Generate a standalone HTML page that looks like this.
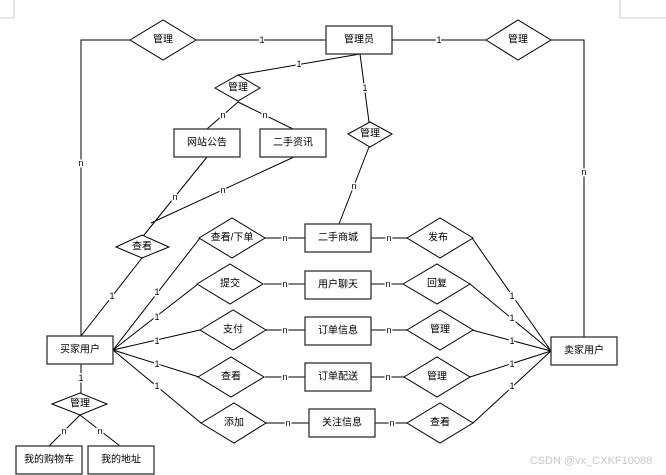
<!DOCTYPE html>
<html><head><meta charset="utf-8"><style>
html,body{margin:0;padding:0;background:#fff;}
svg{display:block;}
text{font-family:"Liberation Sans","Noto Sans CJK SC",sans-serif;font-size:10px;fill:#000;text-anchor:middle;dominant-baseline:central;}
.l{stroke:#000;stroke-width:1;fill:none;}
.b{stroke:#333;stroke-width:1.3;fill:#fff;}
.d{stroke:#000;stroke-width:1;fill:#fff;}
.t{font-size:9px;paint-order:stroke;stroke:#fff;stroke-width:3px;}
</style></head><body>
<svg width="666" height="475" viewBox="0 0 666 475" xmlns="http://www.w3.org/2000/svg">
<path class="l" d="M0 18H14V0" style="stroke:#ccc"/>
<path class="l" d="M620 0V18H666" style="stroke:#ccc"/>

<path class="l" d="M81 336V40H326"/>
<path class="l" d="M392 40H584V337"/>
<path class="l" d="M360 54L238 75"/>
<path class="l" d="M238 102L207 129M238 102L293 129"/>
<path class="l" d="M360 54L369 122"/>
<path class="l" d="M369 147L339 224"/>
<path class="l" d="M207 157L140 240M294 157L151 223"/>
<path class="l" d="M142 258L81 336"/>
<path class="l" d="M81 363V393"/>
<path class="l" d="M80 415L49 446M80 415L120 446"/>
<path class="l" d="M113 350L200 238M113 350L198 284M113 350L200 330M113 350L199 377M113 350L201 423"/>
<path class="l" d="M551 351L472 238M551 351L470 284M551 351L472 330M551 351L470 377M551 351L473 423"/>
<path class="l" d="M265 238H305M371 238H407" style="stroke-width:1.6;stroke:#555"/>
<path class="l" d="M264 284H305M371 284H403"/>
<path class="l" d="M266 330H305M371 330H407" style="stroke-width:1.6;stroke:#555"/>
<path class="l" d="M265 377H305M371 377H404" style="stroke-width:1.6;stroke:#555"/>
<path class="l" d="M266 423H309M375 423H407" style="stroke-width:1.6;stroke:#555"/>

<polygon class="d" points="130,40 163,20 196,40 163,60"/>
<text x="163" y="40">管理</text>
<polygon class="d" points="486,40 518,20 551,40 518,60"/>
<text x="518" y="40">管理</text>
<polygon class="d" points="215,88 238,75 260,88 238,101"/>
<text x="238" y="88">管理</text>
<polygon class="d" points="348,134 370,122 392,134 370,147"/>
<text x="370" y="134">管理</text>
<polygon class="d" points="116,247 142,235 169,247 142,258"/>
<text x="142" y="247">查看</text>
<polygon class="d" points="52,404 80,393 107,404 80,415"/>
<text x="80" y="404">管理</text>

<polygon class="d" points="199,238 232,218 265,238 232,258"/>
<text x="232" y="238">查看/下单</text>
<polygon class="d" points="197,284 230,264 263,284 230,304"/>
<text x="230" y="284">提交</text>
<polygon class="d" points="200,330 233,310 266,330 233,350"/>
<text x="233" y="330">支付</text>
<polygon class="d" points="198,377 231,357 264,377 231,397"/>
<text x="231" y="377">查看</text>
<polygon class="d" points="201,423 234,403 266,423 234,443"/>
<text x="234" y="423">添加</text>

<polygon class="d" points="407,238 440,218 473,238 440,258"/>
<text x="438" y="238">发布</text>
<polygon class="d" points="403,284 437,264 470,284 437,304"/>
<text x="437" y="284">回复</text>
<polygon class="d" points="407,330 440,310 473,330 440,350"/>
<text x="440" y="330">管理</text>
<polygon class="d" points="404,377 437,357 470,377 437,397"/>
<text x="437" y="377">管理</text>
<polygon class="d" points="407,423 440,403 473,423 440,443"/>
<text x="440" y="423">查看</text>

<rect class="b" x="326" y="26" width="66" height="28"/><text x="359" y="40">管理员</text>
<rect class="b" x="174" y="129" width="66" height="28"/><text x="207" y="143">网站公告</text>
<rect class="b" x="260" y="129" width="66" height="28"/><text x="293" y="143">二手资讯</text>
<rect class="b" x="47" y="336" width="66" height="28"/><text x="80" y="350">买家用户</text>
<rect class="b" x="551" y="337" width="66" height="28"/><text x="584" y="351">卖家用户</text>
<rect class="b" x="16" y="446" width="66" height="28"/><text x="49" y="460">我的购物车</text>
<rect class="b" x="88" y="446" width="66" height="28"/><text x="121" y="460">我的地址</text>
<rect class="b" x="305" y="224" width="66" height="28"/><text x="338" y="238">二手商城</text>
<rect class="b" x="305" y="271" width="66" height="28"/><text x="338" y="285">用户聊天</text>
<rect class="b" x="305" y="317" width="66" height="28"/><text x="338" y="331">订单信息</text>
<rect class="b" x="305" y="363" width="66" height="28"/><text x="338" y="377">订单配送</text>
<rect class="b" x="309" y="409" width="66" height="28"/><text x="342" y="423">关注信息</text>

<text class="t" x="262" y="40">1</text>
<text class="t" x="439" y="40">1</text>
<text class="t" x="81" y="163">n</text>
<text class="t" x="584" y="172">n</text>
<text class="t" x="299" y="64">1</text>
<text class="t" x="223" y="115">n</text>
<text class="t" x="265" y="115">n</text>
<text class="t" x="365" y="88">1</text>
<text class="t" x="354" y="186">n</text>
<text class="t" x="175" y="197">n</text>
<text class="t" x="223" y="190">n</text>
<text class="t" x="112" y="296">1</text>
<text class="t" x="81" y="378">1</text>
<text class="t" x="64" y="431">n</text>
<text class="t" x="100" y="431">n</text>
<text class="t" x="157" y="292">1</text>
<text class="t" x="157" y="317">1</text>
<text class="t" x="157" y="341">1</text>
<text class="t" x="157" y="364">1</text>
<text class="t" x="157" y="386">1</text>
<text class="t" x="512" y="296">1</text>
<text class="t" x="512" y="318">1</text>
<text class="t" x="512" y="341">1</text>
<text class="t" x="512" y="364">1</text>
<text class="t" x="512" y="386">1</text>
<text class="t" x="285" y="238">n</text>
<text class="t" x="285" y="284">n</text>
<text class="t" x="285" y="330">n</text>
<text class="t" x="285" y="377">n</text>
<text class="t" x="288" y="423">n</text>
<text class="t" x="389" y="238">n</text>
<text class="t" x="388" y="284">n</text>
<text class="t" x="389" y="330">n</text>
<text class="t" x="388" y="377">n</text>
<text class="t" x="392" y="423">n</text>
<text x="591" y="461" style="fill:#c8c8c8;font-size:11px">CSDN @vx_CXKF10088</text>
</svg>
</body></html>
